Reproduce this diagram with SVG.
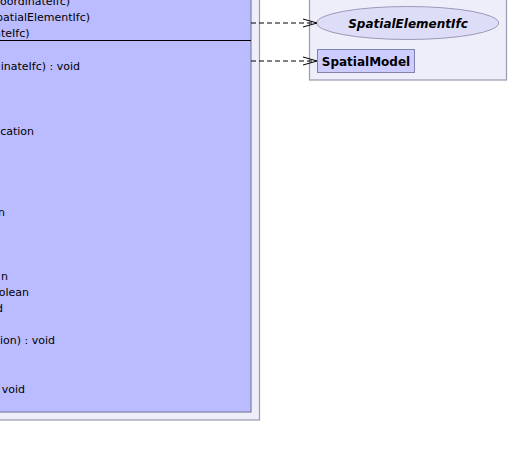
<svg xmlns="http://www.w3.org/2000/svg" width="509" height="458" viewBox="0 0 509 458">
<style>
.pkg{fill:#EEEEFA;stroke:#9A9AB0;stroke-width:1.2}
.cls{fill:#BBBBFF;stroke:#8080A0;stroke-width:1.2}
.t{font-family:"DejaVu Sans",sans-serif;font-size:11px;fill:#000}
.b{font-family:"DejaVu Sans",sans-serif;font-size:12px;font-weight:bold;fill:#000}
.dep{stroke:#000;stroke-width:1;stroke-dasharray:5,3;fill:none}
.head{stroke:#000;stroke-width:1;fill:none}
</style>
<g id="package-left">
<rect class="pkg" x="-20" y="-20" width="279.5" height="440"/>
</g>
<g id="class-main">
<rect class="cls" x="-20" y="-20" width="271" height="432"/>
<line x1="-20" y1="40.5" x2="251" y2="40.5" stroke="#000" stroke-width="1.2"/>
<g text-anchor="end">
<text class="t" x="70" y="4.5">oordinateIfc)</text>
<text class="t" x="90" y="20.5">patialElementIfc)</text>
<text class="t" x="29.5" y="36.5">ateIfc)</text>
<text class="t" x="80" y="69.5">inateIfc) : void</text>
<text class="t" x="34" y="134.5">cation</text>
<text class="t" x="5" y="215.5">n</text>
<text class="t" x="8" y="279.5">n</text>
<text class="t" x="29" y="295.5">olean</text>
<text class="t" x="3" y="311.5">d</text>
<text class="t" x="55" y="343.5">ion) : void</text>
<text class="t" x="25" y="392.5">void</text>
</g>
</g>
<g id="package-right">
<rect class="pkg" x="309.5" y="-20" width="197" height="100"/>
</g>
<g id="SpatialElementIfc">
<ellipse cx="407.7" cy="23" rx="91" ry="16.5" fill="#DDDDF8" stroke="#9A9AB8" stroke-width="1"/>
<text class="b" x="408" y="27.5" text-anchor="middle" font-style="italic">SpatialElementIfc</text>
</g>
<g id="SpatialModel">
<rect x="317.5" y="49.5" width="97" height="23" fill="#CCCCFF" stroke="#8080A8" stroke-width="1"/>
<text class="b" x="366" y="65.5" text-anchor="middle">SpatialModel</text>
</g>
<g id="connectors">
<line class="dep" x1="251" y1="23" x2="316" y2="23"/>
<polyline class="head" points="303,19 317,23 303,27"/>
<line class="dep" x1="251" y1="61" x2="316" y2="61"/>
<polyline class="head" points="303,57 317,61 303,65"/>
</g>
</svg>
